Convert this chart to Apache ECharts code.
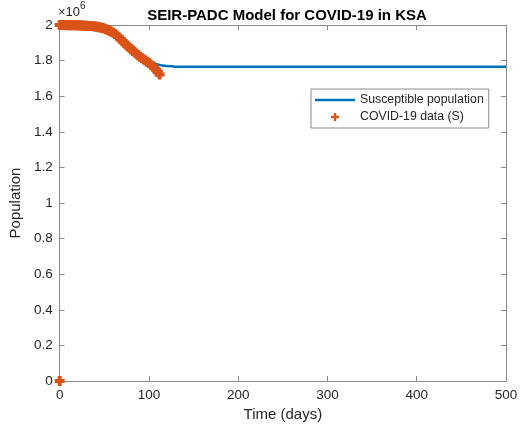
<!DOCTYPE html>
<html><head><meta charset="utf-8">
<script src="https://cdn.jsdelivr.net/npm/echarts@6/dist/echarts.min.js"></script>
<style>html,body{margin:0;padding:0;background:#fff;}#c{width:524px;height:427px;}</style>
</head><body><div id="c"></div>
<script>
// COVID-19 data (S), KSA
var dataDays = [0, 0,2,4,6,8,10,12,14,16,18,20,22,24,26,28,30,32,34,36,38,40,42,44,46,48,50,52,54,56,58,60,62,64,66,68,70,72,74,76,78,80,82,84,86,88,90,92,94,96,98,100,102,104,106,108,110,112];
var dataS = [0, 2.000,2.000,2.000,2.000,1.999,1.999,1.999,1.999,1.998,1.998,1.998,1.997,1.997,1.997,1.996,1.996,1.995,1.995,1.994,1.993,1.992,1.990,1.988,1.986,1.983,1.980,1.976,1.972,1.967,1.962,1.956,1.949,1.941,1.932,1.922,1.912,1.902,1.892,1.882,1.873,1.864,1.856,1.847,1.838,1.830,1.822,1.815,1.808,1.801,1.794,1.786,1.778,1.769,1.759,1.748,1.736,1.722];
// Model: susceptible population (millions)
var modelDays = [0,20,40,50,60,70,80,90,100,105,110,115,120,130,140,200,300,400,500];
var modelS = [2.000,1.999,1.994,1.985,1.965,1.925,1.875,1.830,1.795,1.785,1.779,1.772,1.769,1.766,1.765,1.765,1.765,1.765,1.765];
var xTicks = [0,100,200,300,400,500];
var yTicks = [0,0.2,0.4,0.6,0.8,1,1.2,1.4,1.6,1.8,2];
var SCALE = 1e6;

var modelPts = modelDays.map(function(d,i){return [d, modelS[i]*SCALE];});
var dataPts = dataDays.map(function(d,i){return [d, dataS[i]*SCALE];});

var plusPath = 'path://M-5,-2H-2V-5H2V-2H5V2H2V5H-2V2H-5Z';
var legPlus = 'path://M0,0L0,0Z M40,14L40,14Z M18.8,3H21.2V5.8H24V8.2H21.2V11H18.8V8.2H16V5.8H18.8Z';
var legLine = 'path://M0,0L0,0Z M40,14L40,14Z M0,5.8H40V8.2H0Z';
var axisCol = '#8a8a8a', txt = '#262626', font = 'Liberation Sans, Arial, sans-serif';

var chart = echarts.init(document.getElementById('c'));
chart.setOption({
  animation:false,
  backgroundColor:'#fff',
  title:{text:'SEIR-PADC Model for COVID-19 in KSA', left:282, textAlign:'center', top:3,
    textStyle:{fontSize:15, fontWeight:'bold', color:'#000', fontFamily:font}},
  grid:{left:58, right:18, top:25, bottom:46},
  legend:{orient:'vertical', left:311, top:89, itemWidth:40, itemHeight:14, itemGap:3,
    padding:[4,5,4,4], backgroundColor:'#fff', borderColor:'#8a8a8a', borderWidth:1,
    textStyle:{fontSize:12.3, color:txt, fontFamily:font},
    data:[{name:'Susceptible population', icon:legLine},{name:'COVID-19 data (S)', icon:legPlus}]},
  xAxis:[{type:'value', min:0, max:500, interval:100, name:'Time (days)', nameLocation:'middle', nameGap:25,
    nameTextStyle:{fontSize:15, color:txt, fontFamily:font},
    axisLine:{onZero:false, lineStyle:{color:axisCol}}, axisTick:{inside:true, length:5, lineStyle:{color:axisCol}},
    axisLabel:{fontSize:13.5, color:txt, fontFamily:font, margin:7,
      formatter:function(v){return xTicks.indexOf(v)>=0?String(v):'';}}, splitLine:{show:false}},
    {type:'value', position:'top', min:0, max:500, interval:100,
    axisLine:{show:true, onZero:false, lineStyle:{color:axisCol}}, axisTick:{inside:true, length:5, lineStyle:{color:axisCol}},
    axisLabel:{show:false}, splitLine:{show:false}}],
  yAxis:[{type:'value', min:0, max:2e6, interval:2e5, name:'Population', nameLocation:'middle', nameGap:31,
    nameTextStyle:{fontSize:15, color:txt, fontFamily:font},
    axisLine:{onZero:false, lineStyle:{color:axisCol}}, axisTick:{inside:true, length:5, lineStyle:{color:axisCol}},
    axisLabel:{fontSize:13.5, color:txt, fontFamily:font, margin:7,
      formatter:function(v){var t=Math.round(v/SCALE*10)/10; return yTicks.indexOf(t)>=0?String(t):'';}},
    splitLine:{show:false}},
    {type:'value', position:'right', min:0, max:2e6, interval:2e5,
    axisLine:{show:true, onZero:false, lineStyle:{color:axisCol}}, axisTick:{inside:true, length:5, lineStyle:{color:axisCol}},
    axisLabel:{show:false}, splitLine:{show:false}}],
  graphic:[{type:'text', left:58, top:1, style:{text:'{a|×10}{b|6}', rich:{a:{fontSize:13, fill:txt, fontFamily:font, padding:[5,0,0,0]}, b:{fontSize:10, fill:txt, fontFamily:font, verticalAlign:'top'}}}}],
  series:[
    {name:'Susceptible population', type:'line', data:modelPts, smooth:0.3, showSymbol:false, symbol:'none',
      lineStyle:{color:'#0072BD', width:2.5}, itemStyle:{color:'#0072BD'}, z:2},
    {name:'COVID-19 data (S)', type:'scatter', data:dataPts, symbol:plusPath, symbolSize:10,
      itemStyle:{color:'#D95319', opacity:1}, z:3, clip:false}
  ]
});
</script></body></html>
